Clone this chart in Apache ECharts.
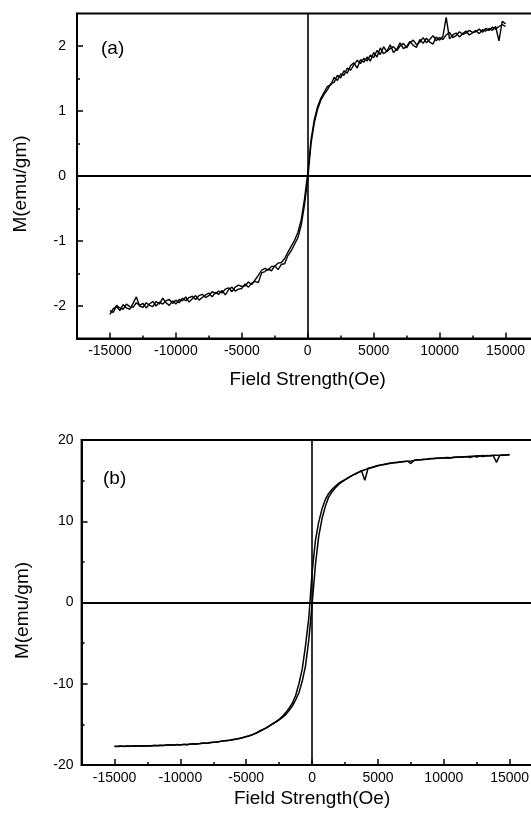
<!DOCTYPE html>
<html><head><meta charset="utf-8">
<script src="https://cdn.jsdelivr.net/npm/echarts@6/dist/echarts.min.js"></script>
<style>html,body{margin:0;padding:0;background:#fff}#c{width:531px;height:816px}</style>
</head><body><div id="c"></div>
<script>
// Applied field (Oe), shared by all branches
const fieldOe = [
  -15000,-14750,-14500,-14250,-14000,-13750,-13500,-13250,-13000,-12750,
  -12500,-12250,-12000,-11750,-11500,-11250,-11000,-10750,-10500,-10250,
  -10000,-9750,-9500,-9250,-9000,-8750,-8500,-8250,-8000,-7750,
  -7500,-7250,-7000,-6750,-6500,-6250,-6000,-5750,-5500,-5250,
  -5000,-4750,-4500,-4250,-4000,-3750,-3500,-3250,-3000,-2750,
  -2500,-2250,-2000,-1750,-1500,-1250,-1000,-750,-500,-250,
  0,250,500,750,1000,1250,1500,1750,2000,2250,
  2500,2750,3000,3250,3500,3750,4000,4250,4500,4750,
  5000,5250,5500,5750,6000,6250,6500,6750,7000,7250,
  7500,7750,8000,8250,8500,8750,9000,9250,9500,9750,
  10000,10250,10500,10750,11000,11250,11500,11750,12000,12250,
  12500,12750,13000,13250,13500,13750,14000,14250,14500,14750,
  15000
];
// (a) magnetization, ascending branch (emu/gm)
const magA_up = [
  -2.13,-2.04,-2.01,-2.07,-1.98,-2.03,-2.05,-1.96,-1.86,-2.0,
  -2.02,-1.95,-1.99,-2.01,-1.93,-1.97,-1.88,-1.95,-1.99,-1.92,
  -1.97,-1.9,-1.92,-1.86,-1.94,-1.89,-1.84,-1.91,-1.87,-1.83,
  -1.8,-1.86,-1.79,-1.82,-1.76,-1.83,-1.75,-1.71,-1.77,-1.74,
  -1.73,-1.66,-1.71,-1.65,-1.62,-1.64,-1.49,-1.47,-1.43,-1.46,
  -1.38,-1.44,-1.36,-1.35,-1.22,-1.15,-1.05,-0.95,-0.76,-0.45,
  -0.05,0.5,0.82,1.03,1.17,1.26,1.33,1.42,1.44,1.55,
  1.51,1.62,1.58,1.7,1.74,1.66,1.79,1.75,1.83,1.77,
  1.9,1.83,1.97,1.88,1.92,2.02,1.9,1.95,2.05,1.96,
  1.99,2.07,2.01,1.98,2.1,2.04,2.12,2.06,2.03,2.14,
  2.09,2.15,2.44,2.11,2.17,2.2,2.14,2.19,2.23,2.17,
  2.2,2.24,2.19,2.25,2.23,2.27,2.24,2.3,2.08,2.38,
  2.34
];
// (a) magnetization, descending branch (same field order)
const magA_down = [
  -2.07,-2.1,-1.99,-2.03,-2.05,-1.97,-2.01,-2.02,-1.95,-1.99,
  -1.96,-2.03,-1.97,-1.93,-2.0,-1.94,-1.97,-1.92,-1.9,-1.96,
  -1.91,-1.95,-1.88,-1.92,-1.87,-1.85,-1.9,-1.84,-1.82,-1.87,
  -1.84,-1.78,-1.81,-1.77,-1.8,-1.74,-1.72,-1.78,-1.71,-1.68,
  -1.7,-1.69,-1.63,-1.67,-1.6,-1.53,-1.45,-1.42,-1.45,-1.39,
  -1.39,-1.34,-1.33,-1.27,-1.17,-1.08,-0.99,-0.87,-0.68,-0.36,
  0.05,0.56,0.87,1.07,1.2,1.29,1.38,1.4,1.52,1.47,
  1.57,1.55,1.66,1.63,1.71,1.78,1.73,1.81,1.77,1.86,
  1.82,1.93,1.87,1.99,1.91,1.96,1.99,1.93,2.0,2.04,
  1.97,2.05,2.09,2.02,2.06,2.13,2.05,2.1,2.16,2.08,
  2.13,2.1,2.17,2.21,2.13,2.16,2.22,2.18,2.2,2.24,
  2.21,2.22,2.26,2.21,2.27,2.24,2.29,2.26,2.3,2.33,
  2.3
];
// (b) magnetization, ascending branch
const magB_up = [
  -17.72,-17.7,-17.66,-17.71,-17.67,-17.7,-17.64,-17.68,-17.63,-17.67,
  -17.62,-17.65,-17.6,-17.63,-17.57,-17.61,-17.55,-17.5,-17.57,-17.49,
  -17.54,-17.46,-17.51,-17.42,-17.41,-17.43,-17.34,-17.31,-17.33,-17.24,
  -17.21,-17.17,-17.11,-17.03,-17.01,-16.94,-16.89,-16.79,-16.73,-16.6,
  -16.52,-16.38,-16.27,-16.05,-15.88,-15.66,-15.47,-15.22,-14.98,-14.73,
  -14.45,-14.14,-13.8,-13.3,-12.75,-12.0,-11.1,-9.7,-7.8,-4.6,
  -0.2,4.6,8.1,10.3,11.8,12.95,13.6,14.1,14.5,14.83,
  15.08,15.33,15.58,15.79,15.99,16.19,16.34,16.48,16.59,16.71,
  16.84,16.91,16.99,17.07,17.14,17.19,17.24,17.29,17.34,17.37,
  17.41,17.47,17.54,17.56,17.59,17.62,17.69,17.71,17.74,17.76,
  17.79,17.81,17.79,17.85,17.89,17.87,17.91,17.96,17.85,18.02,
  17.9,18.06,17.95,18.09,18.04,18.11,18.13,18.09,18.16,18.12,
  18.2
];
// (b) magnetization, descending branch (same field order)
const magB_down = [
  -17.69,-17.73,-17.69,-17.68,-17.65,-17.69,-17.66,-17.66,-17.62,-17.65,
  -17.63,-17.62,-17.61,-17.6,-17.59,-17.58,-17.54,-17.54,-17.54,-17.51,
  -17.52,-17.48,-17.49,-17.44,-17.39,-17.41,-17.36,-17.29,-17.31,-17.26,
  -17.19,-17.19,-17.09,-17.05,-16.99,-16.96,-16.87,-16.81,-16.71,-16.64,
  -16.48,-16.42,-16.23,-16.1,-15.82,-15.64,-15.43,-15.18,-14.92,-14.67,
  -14.38,-14.02,-13.55,-13.0,-12.4,-11.45,-10.0,-8.2,-5.3,-1.9,
  3.7,7.6,9.9,11.5,12.65,13.4,13.9,14.3,14.65,14.9,
  15.13,15.38,15.62,15.82,16.02,16.22,15.05,16.52,16.62,16.74,
  16.86,16.94,17.02,17.1,17.16,17.22,17.26,17.31,17.36,17.4,
  17.1,17.5,17.56,17.58,17.62,17.65,17.71,17.73,17.76,17.79,
  17.81,17.84,17.82,17.88,17.91,17.9,17.94,17.94,18.0,17.98,
  18.06,18.03,18.1,18.02,18.1,18.09,17.25,18.12,18.14,18.15,
  18.22
];
const xRange = [-17500, 17500];
const xMajorTicks = [-15000,-10000,-5000,0,5000,10000,15000];
const xMinorTicks = [-12500,-7500,-2500,2500,7500,12500];
const yRangeA = [-2.5, 2.5];
const yMajorA = [-2,-1,0,1,2];
const yMinorA = [-1.5,-0.5,0.5,1.5];
const yRangeB = [-20, 20];
const yMajorB = [-20,-10,0,10,20];
const yMinorB = [-15,-5,5,15];
const xTitle = 'Field Strength(Oe)';
const yTitle = 'M(emu/gm)';
const panelLabels = ['(a)', '(b)'];

const FONT = "'Liberation Sans', Arial, Helvetica, sans-serif";
const BLACK = '#000';
const plain = v => String(v);

function xAxes(gi, nameGap) {
  return [
    { type:'value', gridIndex:gi, min:xRange[0], max:xRange[1], position:'bottom',
      axisLine:{show:true, onZero:false, lineStyle:{color:BLACK, width:2}},
      axisTick:{show:true, inside:true, length:6, customValues:xMajorTicks, lineStyle:{color:BLACK, width:1.5}},
      axisLabel:{show:true, customValues:xMajorTicks, formatter:plain, color:BLACK, fontSize:14, fontFamily:FONT, margin:6},
      splitLine:{show:false},
      name:xTitle, nameLocation:'middle', nameGap:nameGap,
      nameTextStyle:{color:BLACK, fontSize:19, fontFamily:FONT} },
    { type:'value', gridIndex:gi, min:xRange[0], max:xRange[1], position:'bottom',
      axisLine:{show:false, onZero:false},
      axisTick:{show:true, inside:true, length:3, customValues:xMinorTicks, lineStyle:{color:BLACK, width:1.5}},
      axisLabel:{show:false}, splitLine:{show:false} }
  ];
}
function yAxes(gi, range, major, minor, labelMargin, nameGap) {
  return [
    { type:'value', gridIndex:gi, min:range[0], max:range[1], position:'left',
      axisLine:{show:true, onZero:false, lineStyle:{color:BLACK, width:2}},
      axisTick:{show:true, inside:true, length:6, customValues:major, lineStyle:{color:BLACK, width:1.5}},
      axisLabel:{show:true, customValues:major, formatter:plain, color:BLACK, fontSize:14, fontFamily:FONT, margin:labelMargin},
      splitLine:{show:false},
      name:yTitle, nameLocation:'middle', nameGap:nameGap, nameRotate:90,
      nameTextStyle:{color:BLACK, fontSize:19, fontFamily:FONT, padding:[0,16,0,0]} },
    { type:'value', gridIndex:gi, min:range[0], max:range[1], position:'left',
      axisLine:{show:false, onZero:false},
      axisTick:{show:true, inside:true, length:3, customValues:minor, lineStyle:{color:BLACK, width:1.5}},
      axisLabel:{show:false}, splitLine:{show:false} }
  ];
}
function branch(name, mags, axisIdx, reverse, withZero, lw) {
  let d = fieldOe.map((h, i) => [h, mags[i]]);
  if (reverse) d = d.reverse();
  const s = { name, type:'line', xAxisIndex:axisIdx, yAxisIndex:axisIdx, data:d,
    symbol:'none', showSymbol:false, smooth:false, silent:true,
    lineStyle:{color:BLACK, width:lw}, z:3 };
  if (withZero) {
    s.markLine = { silent:true, symbol:['none','none'], label:{show:false}, animation:false,
      data:[ {xAxis:0, lineStyle:{color:BLACK, width:1.6, type:'solid'}},
             {yAxis:0, lineStyle:{color:BLACK, width:2.2, type:'solid'}} ] };
  }
  return s;
}

const chart = echarts.init(document.getElementById('c'), null, {renderer:'canvas'});
chart.setOption({
  backgroundColor:'#fff',
  animation:false,
  grid:[
    { left:77, top:13.5, width:461.5, height:325, show:true, borderColor:BLACK, borderWidth:2, outerBoundsMode:'none', containLabel:false },
    { left:81.6, top:440, width:461, height:325, show:true, borderColor:BLACK, borderWidth:2, outerBoundsMode:'none', containLabel:false }
  ],
  xAxis: [...xAxes(0, 32), ...xAxes(1, 24)],
  yAxis: [...yAxes(0, yRangeA, yMajorA, yMinorA, 11, 47), ...yAxes(1, yRangeB, yMajorB, yMinorB, 8, 49)],
  series:[
    branch('a ascending', magA_up, 0, false, true, 1.4),
    branch('a descending', magA_down, 0, true, false, 1.4),
    branch('b ascending', magB_up, 2, false, true, 1.5),
    branch('b descending', magB_down, 2, true, false, 1.5)
  ],
  graphic:[
    { type:'text', left:101, top:39, style:{text:panelLabels[0], fill:BLACK, font:'19px ' + FONT} },
    { type:'text', left:103, top:469, style:{text:panelLabels[1], fill:BLACK, font:'19px ' + FONT} }
  ]
});
</script></body></html>
